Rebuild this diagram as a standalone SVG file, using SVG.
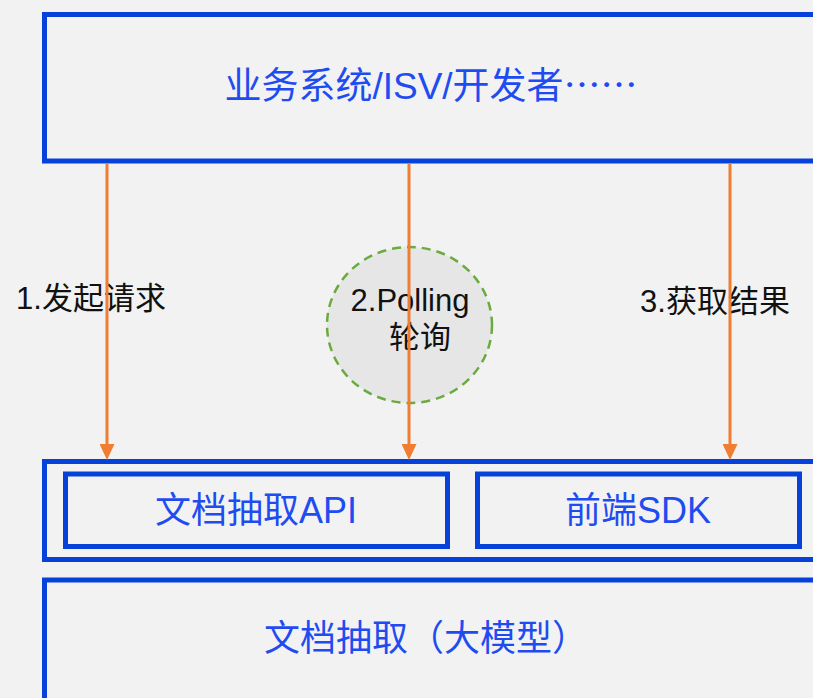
<svg xmlns="http://www.w3.org/2000/svg" width="813" height="698" viewBox="0 0 813 698">
<style>
.box{fill:none;stroke:#0641da;stroke-width:5}
.btxt{fill:#1f4cf0;font-family:"Liberation Sans","Noto Sans CJK SC",sans-serif;font-size:36px;text-anchor:middle}
.ktxt{fill:#111;font-family:"Liberation Sans","Noto Sans CJK SC",sans-serif;font-size:31px;text-anchor:middle}
.cjk{font-family:"Noto Sans CJK SC",sans-serif}
.conn{stroke:#ef7d32;stroke-width:3;fill:none;marker-end:url(#arr)}
</style>
<defs>
<marker id="arr" viewBox="0 0 16 15" refX="3" refY="7.5" markerWidth="16" markerHeight="15" markerUnits="userSpaceOnUse" orient="auto">
<path d="M0,0 L16,7.5 L0,15 z" fill="#ef7d32"/>
</marker>
</defs>
<rect width="813" height="698" fill="#f2f2f2"/>
<g id="top">
<rect class="box" x="44.5" y="14.5" width="800" height="146.5"/>
<text class="btxt" x="431" y="99" style="font-size:37px">业务系统/ISV/开发者<tspan class="cjk">……</tspan></text>
</g>
<g id="middle">
<rect class="box" x="44.5" y="461.5" width="800" height="98"/>
</g>
<g id="api">
<rect class="box" x="65.5" y="474" width="382" height="72.5"/>
<text class="btxt" x="256" y="523">文档抽取API</text>
</g>
<g id="sdk">
<rect class="box" x="477.5" y="474" width="322" height="72.5"/>
<text class="btxt" x="638" y="523">前端SDK</text>
</g>
<g id="bottom">
<rect class="box" x="44.5" y="580" width="800" height="200"/>
<text class="btxt" x="426" y="651">文档抽取（大模型）</text>
</g>
<g id="polling">
<ellipse cx="409.5" cy="325" rx="82.5" ry="78" fill="#e6e6e6" stroke="#6aab3f" stroke-width="2.5" stroke-dasharray="9,6"/>
<text class="ktxt" x="410" y="311">2.Polling</text>
<text class="ktxt" x="420" y="348">轮询</text>
</g>
<g id="labels">
<text class="ktxt" x="91" y="309">1.发起请求</text>
<text class="ktxt" x="715" y="312">3.获取结果</text>
</g>
<g id="connectors">
<line class="conn" x1="107" y1="163" x2="107" y2="447"/>
<line class="conn" x1="409" y1="163" x2="409" y2="447"/>
<line class="conn" x1="730" y1="163" x2="730" y2="447"/>
</g>
</svg>
